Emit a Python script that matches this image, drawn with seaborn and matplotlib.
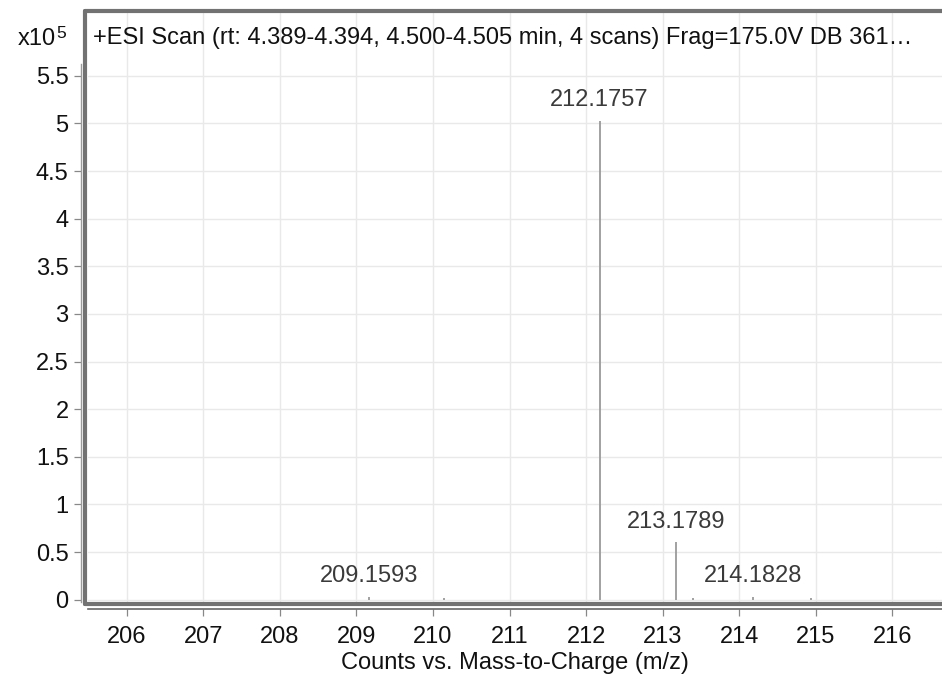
import matplotlib
matplotlib.use("Agg")
import matplotlib.pyplot as plt
import seaborn as sns
import numpy as np
from matplotlib.lines import Line2D

# ---- data ----
peak_mz = [209.1593, 210.14, 212.1757, 213.1789, 213.40, 214.1828, 214.94]
peak_counts = [3000, 1200, 503000, 60000, 1500, 3200, 1200]
labeled_mz = [209.1593, 212.1757, 213.1789, 214.1828]
labeled_counts = [3000, 503000, 60000, 3200]
labeled_text = ["209.1593", "212.1757", "213.1789", "214.1828"]
x_ticks = [206, 207, 208, 209, 210, 211, 212, 213, 214, 215, 216]
y_ticks = [0, 0.5, 1, 1.5, 2, 2.5, 3, 3.5, 4, 4.5, 5, 5.5]
y_tick_labels = ["0", "0.5", "1", "1.5", "2", "2.5", "3", "3.5", "4", "4.5", "5", "5.5"]
title_text = "+ESI Scan (rt: 4.389-4.394, 4.500-4.505 min, 4 scans) Frag=175.0V DB 361\u2026"
x_label = "Counts vs. Mass-to-Charge (m/z)"

sns.set_theme(style="white")
plt.rcParams["font.family"] = ["Liberation Sans", "DejaVu Sans"]

FS = 17
W, H = 942, 675
fig = plt.figure(figsize=(W / 100, H / 100), dpi=100)
left, right, top, bottom = 88, 942, 13, 602
ax = fig.add_axes([left / W, 1 - bottom / H, (right - left) / W, (bottom - top) / H])

scale = 1e5
ax.set_xlim(205.494, 216.649)
ax.set_ylim(-0.025, 6.16)

# grid
for xv in x_ticks:
    ax.axvline(xv, color="#e9e9e9", lw=1.0, zorder=0)
for yv in y_ticks:
    ax.axhline(yv, color="#e9e9e9", lw=1.0, zorder=0)

# peaks
ax.vlines(peak_mz, 0, np.array(peak_counts) / scale, color="#9a9a9a", lw=1.3, zorder=3)

for mz, c, t in zip(labeled_mz, labeled_counts, labeled_text):
    ax.annotate(t, (mz, c / scale), xytext=(0, 7), textcoords="offset points",
                ha="center", va="bottom", fontsize=FS, color="#3a3a3a", zorder=4)

# ticks
ax.set_xticks(x_ticks)
ax.set_xticklabels([str(v) for v in x_ticks])
ax.set_yticks(y_ticks)
ax.set_yticklabels(y_tick_labels)
ax.tick_params(axis="both", labelsize=FS, colors="#111111", length=5, width=0.9,
               direction="out", bottom=True, left=True)
ax.tick_params(axis="both", color="#888888")
ax.tick_params(axis="x", pad=7)
ax.tick_params(axis="y", pad=4)

for s in ["top", "right"]:
    ax.spines[s].set_visible(False)
ax.spines["left"].set_position(("outward", 5))
ax.spines["left"].set_color("#9a9a9a")
ax.spines["left"].set_linewidth(1.0)
ax.spines["left"].set_bounds(-0.03, 5.62)
ax.spines["bottom"].set_position(("outward", 5))
ax.spines["bottom"].set_color("#666666")
ax.spines["bottom"].set_linewidth(1.2)

ax.set_xlabel(x_label, fontsize=FS, color="#111111", labelpad=3)

# frame (thick gray border)
lw_frame = 3.0
ax.add_line(Line2D([-0.003, -0.003], [-0.003, 1.003], transform=ax.transAxes,
                   color="#727272", lw=lw_frame, clip_on=False, zorder=5))
ax.add_line(Line2D([-0.003, 1.0], [1.003, 1.003], transform=ax.transAxes,
                   color="#727272", lw=lw_frame, clip_on=False, zorder=5))
ax.add_line(Line2D([-0.003, 1.0], [-0.003, -0.003], transform=ax.transAxes,
                   color="#727272", lw=lw_frame, clip_on=False, zorder=5))

# title inside the plot
ax.text(0.006, 0.976, title_text, transform=ax.transAxes, ha="left", va="top",
        fontsize=FS, color="#111111")

# exponent label
fig.text(18 / W, 1 - 45 / H, "x10", fontsize=FS, color="#111111", ha="left", va="baseline")
fig.text(56 / W, 1 - 38 / H, "5", fontsize=12.5, color="#111111", ha="left", va="baseline")

fig.savefig("out.png", dpi=100)
